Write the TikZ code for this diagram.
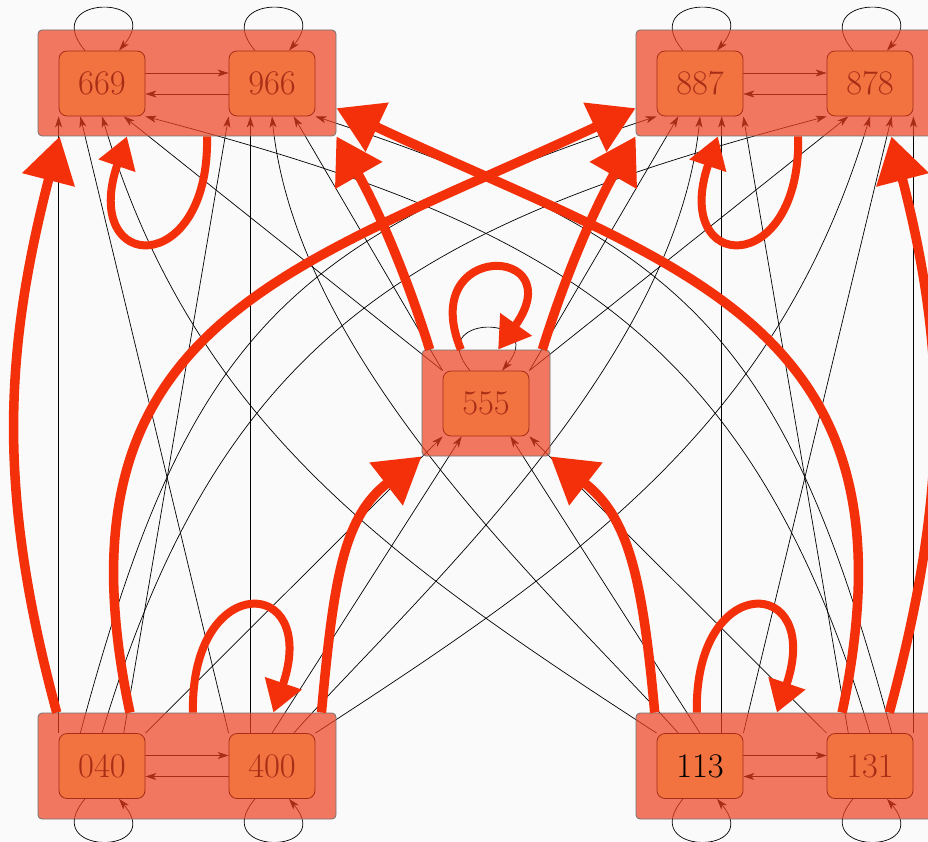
\documentclass[tikz,border=0pt]{standalone}
\usetikzlibrary{arrows.meta,calc}
\definecolor{bgc}{HTML}{FAFAFA}
\definecolor{clf}{RGB}{240,64,32}
\definecolor{inf}{RGB}{242,114,64}
\definecolor{ind}{RGB}{168,45,22}
\definecolor{redarr}{HTML}{F4300A}
\pgfdeclarelayer{background}
\pgfdeclarelayer{edges}
\pgfdeclarelayer{over}
\pgfdeclarelayer{top}
\pgfsetlayers{background,edges,over,main,top}
\begin{document}
\begin{tikzpicture}[x=1pt,y=-1pt,
  inbox/.style={rectangle, rounded corners=8pt, minimum width=86pt, minimum height=65pt, inner sep=0pt, fill=inf, draw=ind, line width=0.8pt, text=ind, font=\fontsize{34.5}{40}\selectfont},
  cluster/.style={rectangle, rounded corners=4pt, inner sep=0pt, fill=clf, fill opacity=0.7, draw=black!55, draw opacity=1, line width=0.8pt},
  tarr/.style={draw=black, line width=0.7pt, -{Stealth[length=11pt,width=7pt,inset=3pt]}},
  rarr/.style={draw=redarr, line width=9.5pt, -{Triangle[length=45pt,width=52pt]}},
  rloop/.style={draw=redarr, line width=8pt, -{Triangle[length=31pt,width=37pt]}}]
\begin{pgfonlayer}{background}
\fill[bgc] (0,0) rectangle (928,842);
\end{pgfonlayer}
\useasboundingbox (0,0) rectangle (928,842);

% state nodes
\node[inbox] (n669) at (102,83.5) {669};
\node[inbox] (n966) at (272,83.5) {966};
\node[inbox] (n887) at (700,83.5) {887};
\node[inbox] (n878) at (870,83.5) {878};
\node[inbox] (n040) at (102,766) {040};
\node[inbox] (n400) at (272,766) {400};
\node[inbox, text=black] (n113) at (700,766) {113};
\node[inbox] (n131) at (870,766) {131};
\node[inbox] (n555) at (486,403.5) {555};

% cluster boxes
\begin{pgfonlayer}{over}
\node[cluster, minimum width=298pt, minimum height=106pt] (cTL) at (187,83) {};
\node[cluster, minimum width=298pt, minimum height=106pt] (cTR) at (785,83) {};
\node[cluster, minimum width=298pt, minimum height=106pt] (cBL) at (187,766) {};
\node[cluster, minimum width=298pt, minimum height=106pt] (cBR) at (785,766) {};
\node[cluster, minimum width=128pt, minimum height=106pt] (cC) at (486,403) {};
\end{pgfonlayer}

% attachment points
\foreach \n in {669,966,887,878}{
  \foreach \i/\f in {0/0,1/0.25,2/0.5,3/0.75,4/1}{
    \coordinate (b\n-\i) at ($(n\n.south west)!\f!(n\n.south east)$);
  }
}
\foreach \n in {040,400,113,131}{
  \foreach \i/\f in {0/0,1/0.25,2/0.5,3/0.75,4/1}{
    \coordinate (t\n-\i) at ($(n\n.north west)!\f!(n\n.north east)$);
  }
}
\coordinate (c555-1) at ($(n555.south west)!0.22!(n555.south east)$);
\coordinate (c555-2) at ($(n555.south west)!0.78!(n555.south east)$);

\begin{pgfonlayer}{edges}
% left half
\draw[tarr] (t040-0) -- (b669-0);
\draw[tarr] (t040-1) .. controls +(104,-386) and +(-380,124) .. (b887-0);
\draw[tarr] (t040-2) .. controls +(120.5,-402.4) and +(-406,107) .. (b878-0);
\draw[tarr] (t040-3) -- (b966-0);
\draw[tarr] (t040-4) -- (n555.south west);
\draw[tarr] (t400-0) -- (b669-1);
\draw[tarr] (t400-1) -- (b966-1);
\draw[tarr] (t400-2) -- (c555-1);
\draw[tarr] (t400-3) .. controls +(120,-134) and +(-25,249) .. (b887-2);
\draw[tarr] (t400-4) .. controls +(268,-174) and +(-92,306.6) .. (b878-2);
\draw[tarr] (n555.north west) -- (b669-3);
\draw[tarr] (n555.north west) -- (b966-3);
% right half
\draw[tarr] (t131-4) -- (b878-4);
\draw[tarr] (t131-3) .. controls +(-104,-386) and +(380,124) .. (b966-4);
\draw[tarr] (t131-2) .. controls +(-120.5,-402.4) and +(406,107) .. (b669-4);
\draw[tarr] (t131-1) -- (b887-4);
\draw[tarr] (t131-0) -- (n555.south east);
\draw[tarr] (t113-4) -- (b878-3);
\draw[tarr] (t113-3) -- (b887-3);
\draw[tarr] (t113-2) -- (c555-2);
\draw[tarr] (t113-1) .. controls +(-120,-134) and +(25,249) .. (b966-2);
\draw[tarr] (t113-0) .. controls +(-268,-174) and +(92,306.6) .. (b669-2);
\draw[tarr] (n555.north east) -- (b878-1);
\draw[tarr] (n555.north east) -- (b887-1);
% within clusters
\draw[tarr] ([yshift=10.5pt]n669.east) -- ([yshift=10.5pt]n966.west);
\draw[tarr] ([yshift=-10.5pt]n966.west) -- ([yshift=-10.5pt]n669.east);
\draw[tarr] ([yshift=10.5pt]n887.east) -- ([yshift=10.5pt]n878.west);
\draw[tarr] ([yshift=-10.5pt]n878.west) -- ([yshift=-10.5pt]n887.east);
\draw[tarr] ([yshift=10.5pt]n040.east) -- ([yshift=10.5pt]n400.west);
\draw[tarr] ([yshift=-10.5pt]n400.west) -- ([yshift=-10.5pt]n040.east);
\draw[tarr] ([yshift=10.5pt]n113.east) -- ([yshift=10.5pt]n131.west);
\draw[tarr] ([yshift=-10.5pt]n131.west) -- ([yshift=-10.5pt]n113.east);
% self loops
\foreach \n in {669,966,887,878}{
  \draw[tarr] ([xshift=-17pt]n\n.north) .. controls +(-48,-57) and +(48,-57) .. ([xshift=17pt]n\n.north);
}
\foreach \n in {040,400,113,131}{
  \draw[tarr] ([xshift=-17pt]n\n.south) .. controls +(-48,57) and +(48,57) .. ([xshift=17pt]n\n.south);
}
\draw[tarr] ([xshift=-16pt]n555.north) .. controls +(-48,-57) and +(48,-57) .. ([xshift=16pt]n555.north);
\end{pgfonlayer}

% cluster-level transitions
\begin{pgfonlayer}{top}
\draw[rarr] ($(cBL.north west)!0.064!(cBL.north east)$) .. controls +(-59,-218) and +(-56.5,219) .. ($(cTL.south west)!0.074!(cTL.south east)$);
\draw[rarr] ($(cBL.north west)!0.309!(cBL.north east)$) .. controls +(-83,-391) and +(-344,161) .. ($(cTR.north west)!0.736!(cTR.south west)$);
\draw[rloop] ($(cBL.north west)!0.52!(cBL.north east)$) .. controls +(-3,-143) and +(47,-138) .. ($(cBL.north west)!0.789!(cBL.north east)$);
\draw[rarr] ($(cBL.north west)!0.95!(cBL.north east)$) .. controls +(12.6,-139.4) and +(-77,60) .. (cC.south west);
\draw[rarr] ($(cBR.north west)!0.064!(cBR.north east)$) .. controls +(-12.6,-139.4) and +(77,60) .. (cC.south east);
\draw[rloop] ($(cBR.north west)!0.205!(cBR.north east)$) .. controls +(-3,-143) and +(47,-138) .. ($(cBR.north west)!0.473!(cBR.north east)$);
\draw[rarr] ($(cBR.north west)!0.691!(cBR.north east)$) .. controls +(83,-391) and +(344,161) .. ($(cTL.north east)!0.736!(cTL.south east)$);
\draw[rarr] ($(cBR.north west)!0.849!(cBR.north east)$) .. controls +(59,-218) and +(56.5,219) .. ($(cTR.south west)!0.856!(cTR.south east)$);
\draw[rloop] ($(cTL.south west)!0.567!(cTL.south east)$) .. controls +(3,143) and +(-47,138) .. ($(cTL.south west)!0.299!(cTL.south east)$);
\draw[rloop] ($(cTR.south west)!0.544!(cTR.south east)$) .. controls +(3,143) and +(-47,138) .. ($(cTR.south west)!0.275!(cTR.south east)$);
\draw[rarr] ($(cC.north west)!0.0625!(cC.north east)$) .. controls +(-23.6,-76.4) and +(39.8,69.4) .. (cTL.south east);
\draw[rarr] ($(cC.north west)!0.9375!(cC.north east)$) .. controls +(23.6,-76.4) and +(-39.8,69.4) .. (cTR.south west);
\draw[rloop] ($(cC.north west)!0.305!(cC.north east)$) .. controls +(-45,-110) and +(75,-105) .. ($(cC.north west)!0.594!(cC.north east)$);
\end{pgfonlayer}
\end{tikzpicture}
\end{document}
